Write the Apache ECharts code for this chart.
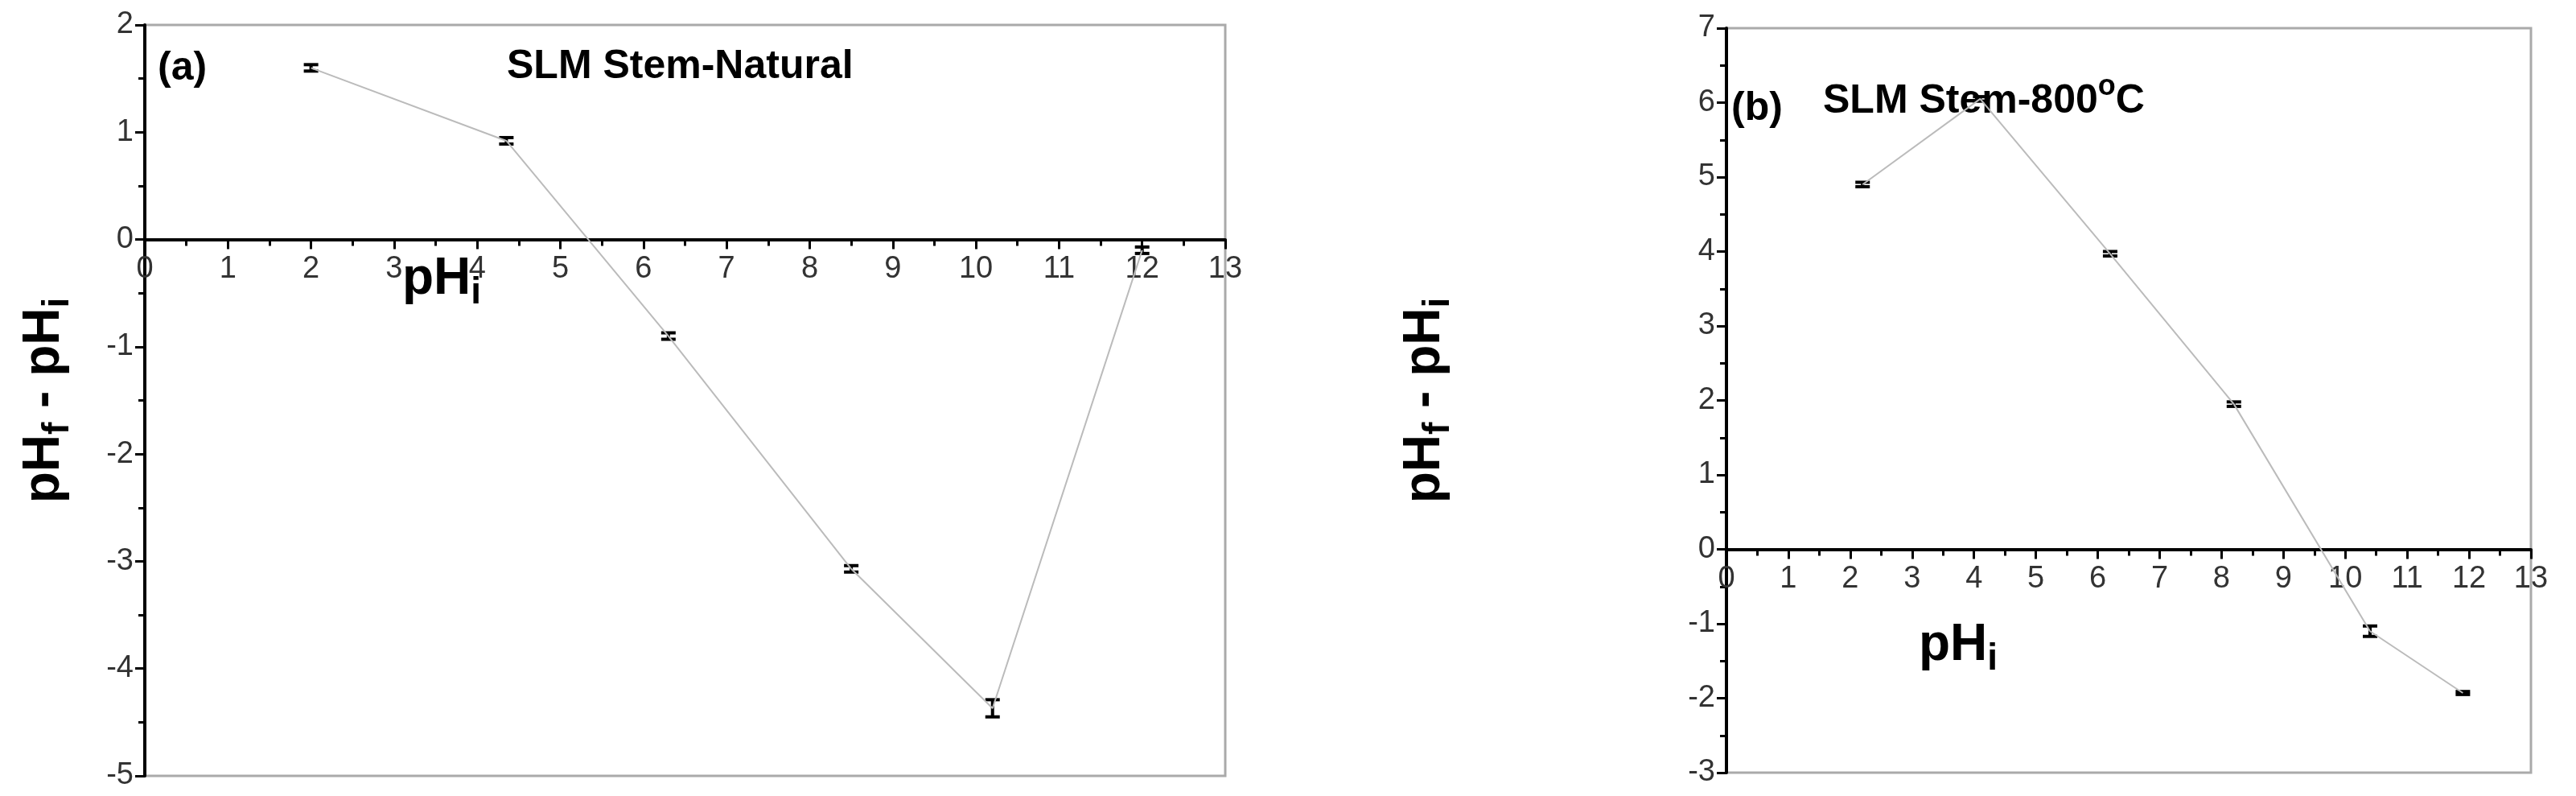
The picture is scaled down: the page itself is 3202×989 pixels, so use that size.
<!DOCTYPE html>
<html>
<head>
<meta charset="utf-8">
<script src="https://cdn.jsdelivr.net/npm/echarts@6/dist/echarts.min.js"></script>
<style>html,body{margin:0;padding:0;background:#fff}#chart{width:3202px;height:989px}</style>
</head>
<body>
<div id="chart"></div>
<script>
// panel (a) SLM Stem-Natural
var phA = [2.0, 4.35, 6.3, 8.5, 10.2, 12.0];
var diffA = [1.6, 0.92, -0.9, -3.07, -4.37, -0.1];
var errA = [0.03, 0.03, 0.03, 0.03, 0.08, 0.03];
// panel (b) SLM Stem-800oC
var phB = [2.2, 4.1, 6.2, 8.2, 10.4, 11.9];
var diffB = [4.9, 6.05, 3.97, 1.95, -1.1, -1.93];
var errB = [0.03, 0.03, 0.03, 0.03, 0.07, 0.02];
var xTicks = [0, 13, 1];
var yTicksA = [-5, 2, 1];
var yTicksB = [-3, 7, 1];

var FONT = "Liberation Sans, Arial, sans-serif";

var myChart = echarts.init(document.getElementById("chart"));

var gridA = { left: 180, top: 31, width: 1343, height: 933 };
var gridB = { left: 2146, top: 35, width: 1000, height: 925 };

function pairs(xs, ys) {
    return xs.map(function (x, i) { return [x, ys[i]]; });
}
function errData(xs, ys, es) {
    return xs.map(function (x, i) { return [x, ys[i] - es[i], ys[i] + es[i]]; });
}
function errorBar(params, api) {
    var lo = api.coord([api.value(0), api.value(1)]);
    var hi = api.coord([api.value(0), api.value(2)]);
    var w = 9;
    var st = { stroke: "#000", lineWidth: 4 };
    return {
        type: "group",
        children: [
            { type: "line", shape: { x1: lo[0], y1: lo[1], x2: hi[0], y2: hi[1] }, style: st },
            { type: "line", shape: { x1: lo[0] - w, y1: lo[1], x2: lo[0] + w, y2: lo[1] }, style: st },
            { type: "line", shape: { x1: hi[0] - w, y1: hi[1], x2: hi[0] + w, y2: hi[1] }, style: st }
        ]
    };
}
// distance of the y = 0 line above the grid bottom
function zeroOffset(g, t) {
    return g.height * (0 - t[0]) / (t[1] - t[0]);
}
function xAxisOf(idx, g, t) {
    return {
        gridIndex: idx, type: "value", min: xTicks[0], max: xTicks[1], interval: xTicks[2],
        position: "bottom", offset: -zeroOffset(g, t),
        axisLine: { onZero: false, lineStyle: { color: "#000", width: 4 } },
        axisTick: { show: true, inside: false, length: 12, lineStyle: { color: "#000", width: 3 } },
        minorTick: { show: true, splitNumber: 2, length: 8, lineStyle: { color: "#000", width: 3 } },
        axisLabel: { color: "#333", fontFamily: FONT, fontSize: 38, margin: 18 },
        splitLine: { show: false }
    };
}
function yAxisOf(idx, t, gap) {
    return {
        gridIndex: idx, type: "value", min: t[0], max: t[1], interval: t[2],
        name: "{a|pH}{s|f}{a| - pH}{s|i}",
        nameLocation: "middle", nameRotate: 90, nameGap: gap,
        nameTextStyle: {
            rich: {
                a: { fontFamily: FONT, fontWeight: "bold", fontSize: 64, color: "#000" },
                s: { fontFamily: FONT, fontWeight: "bold", fontSize: 46, color: "#000", padding: [34, 0, 0, 0] }
            }
        },
        axisLine: { show: true, onZero: false, lineStyle: { color: "#000", width: 4 } },
        axisTick: { show: true, inside: false, length: 12, lineStyle: { color: "#000", width: 3 } },
        minorTick: { show: true, splitNumber: 2, length: 8, lineStyle: { color: "#000", width: 3 } },
        axisLabel: { color: "#333", fontFamily: FONT, fontSize: 38, margin: 14 },
        splitLine: { show: false }
    };
}
function txt(x, y, text, size, rich) {
    return {
        type: "text", left: x, top: y,
        style: { text: text, fontFamily: FONT, fontWeight: "bold", fontSize: size, fill: "#000", rich: rich }
    };
}
var subRich = {
    a: { fontFamily: FONT, fontWeight: "bold", fontSize: 64, fill: "#000" },
    s: { fontFamily: FONT, fontWeight: "bold", fontSize: 46, fill: "#000", padding: [34, 0, 0, 0] }
};
var supRich = {
    t: { fontFamily: FONT, fontWeight: "bold", fontSize: 50, fill: "#000" },
    o: { fontFamily: FONT, fontWeight: "bold", fontSize: 36, fill: "#000", padding: [0, 0, 36, 0] }
};

var option = {
    animation: false,
    grid: [
        Object.assign({ show: true, borderColor: "#aaa", borderWidth: 3 }, gridA),
        Object.assign({ show: true, borderColor: "#aaa", borderWidth: 3 }, gridB)
    ],
    xAxis: [xAxisOf(0, gridA, yTicksA), xAxisOf(1, gridB, yTicksB)],
    yAxis: [yAxisOf(0, yTicksA, 85), yAxisOf(1, yTicksB, 335)],
    graphic: [
        txt(196, 60, "(a)", 50),
        txt(630, 58, "SLM Stem-Natural", 50),
        txt(500, 315, "{a|pH}{s|i}", 64, subRich),
        txt(2152, 110, "(b)", 50),
        txt(2266, 90, "{t|SLM Stem-800}{o|o}{t|C}", 50, supRich),
        txt(2385, 770, "{a|pH}{s|i}", 64, subRich)
    ],
    series: [
        { type: "line", xAxisIndex: 0, yAxisIndex: 0, data: pairs(phA, diffA), showSymbol: false,
          lineStyle: { color: "#bbb", width: 2 } },
        { type: "custom", xAxisIndex: 0, yAxisIndex: 0, data: errData(phA, diffA, errA), renderItem: errorBar,
          encode: { x: 0, y: [1, 2] } },
        { type: "line", xAxisIndex: 1, yAxisIndex: 1, data: pairs(phB, diffB), showSymbol: false,
          lineStyle: { color: "#bbb", width: 2 } },
        { type: "custom", xAxisIndex: 1, yAxisIndex: 1, data: errData(phB, diffB, errB), renderItem: errorBar,
          encode: { x: 0, y: [1, 2] } }
    ]
};
myChart.setOption(option);
</script>
</body>
</html>
